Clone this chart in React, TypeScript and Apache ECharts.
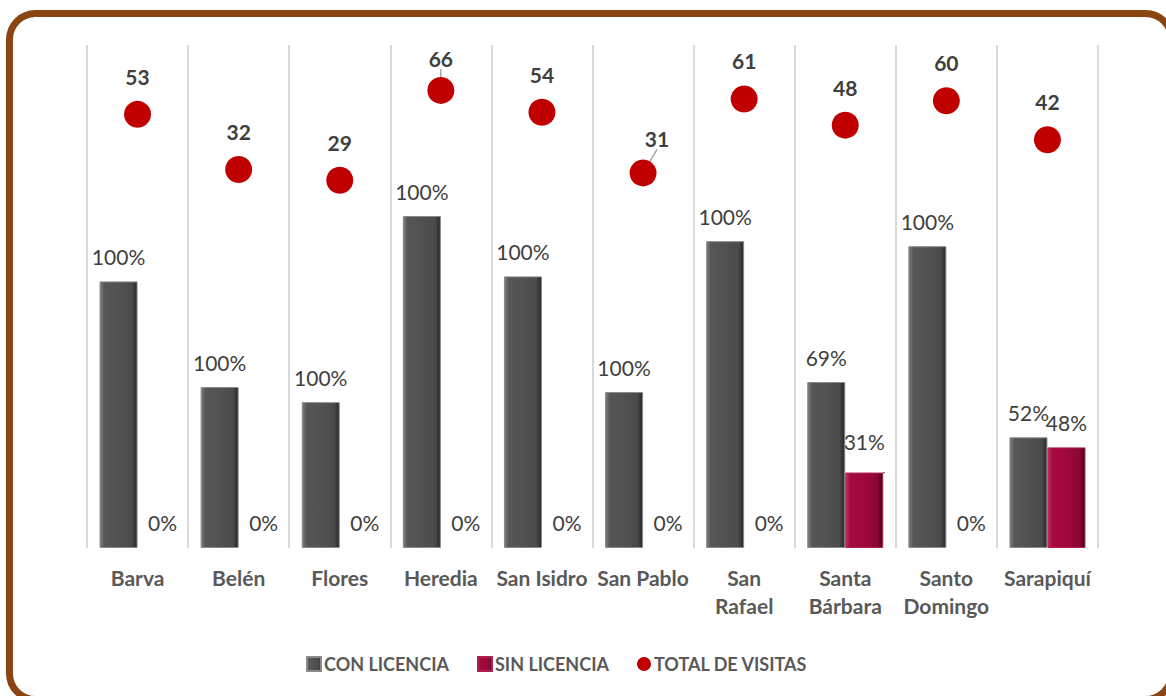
import React, { useEffect, useRef } from "react";
import * as echarts from "echarts";

const categories = ["Barva", "Belén", "Flores", "Heredia", "San Isidro", "San Pablo", "San Rafael", "Santa Bárbara", "Santo Domingo", "Sarapiquí"];
const totalVisits = [53, 32, 29, 66, 54, 31, 61, 48, 60, 42];
const conLicencia = [53, 32, 29, 66, 54, 31, 61, 33, 60, 22];
const sinLicencia = [0, 0, 0, 0, 0, 0, 0, 15, 0, 20];
const wrappedLabels = ["San Rafael", "Santa Bárbara", "Santo Domingo"];

const FONT = "Lato, 'Open Sans', sans-serif";

const pct = (v: number, i: number) => Math.round((v / totalVisits[i]) * 100) + "%";

const grad = (stops: [number, string][]) => ({
  type: "linear",
  x: 0,
  y: 0,
  x2: 1,
  y2: 0,
  colorStops: stops.map(([offset, color]) => ({ offset, color })),
});

export default function App() {
  const ref = useRef<HTMLDivElement>(null);
  useEffect(() => {
    if (!ref.current) return;
    const chart = echarts.init(ref.current, null, { renderer: "svg" });
    const conColor = grad([
      [0, "#7d7d7d"],
      [0.12, "#565656"],
      [0.5, "#525252"],
      [0.86, "#4a4a4a"],
      [1, "#262626"],
    ]);
    const sinColor = grad([
      [0, "#c8306a"],
      [0.12, "#a50a42"],
      [0.5, "#a0083e"],
      [0.86, "#8a0636"],
      [1, "#3a0014"],
    ]);
    const pctLabel = {
      show: true,
      position: "top",
      distance: 14,
      color: "#404040",
      fontFamily: FONT,
      fontSize: 21,
    };
    chart.setOption({
      animation: false,
      textStyle: { fontFamily: FONT },
      graphic: [
        {
          type: "rect",
          shape: { x: 9.5, y: 13.5, width: 1162, height: 686, r: 26 },
          style: { fill: "none", stroke: "#8B4513", lineWidth: 7 },
          silent: true,
        },
      ],
      grid: { left: 87, right: 68, top: 45, bottom: 148, containLabel: false },
      legend: {
        top: 650,
        left: 301,
        itemWidth: 14,
        itemHeight: 14,
        itemGap: 28,
        textStyle: { color: "#595959", fontFamily: FONT, fontSize: 18, fontWeight: "bold", padding: [0, 0, 0, -2] },
        data: [
          { name: "CON LICENCIA", icon: "rect" },
          { name: "SIN LICENCIA", icon: "rect" },
          { name: "TOTAL DE VISITAS", icon: "circle" },
        ],
      },
      xAxis: {
        type: "category",
        data: categories,
        axisLine: { show: false },
        axisTick: { show: false },
        splitLine: { show: true, lineStyle: { color: "#d9d9d9", width: 2 } },
        axisLabel: {
          color: "#595959",
          fontFamily: FONT,
          fontSize: 21,
          fontWeight: "bold",
          lineHeight: 28,
          margin: 15,
          interval: 0,
          formatter: (v: string) => (wrappedLabels.includes(v) ? v.replace(" ", "\n") : v),
        },
      },
      yAxis: [
        { type: "value", min: 0, max: 100, show: false, splitLine: { show: false } },
        { type: "log", min: 1, max: 100, logBase: 10, show: false, splitLine: { show: false } },
      ],
      series: [
        {
          name: "CON LICENCIA",
          type: "bar",
          barWidth: 38,
          barGap: "0%",
          itemStyle: { color: conColor, borderColor: "#8a8a8a", borderWidth: 1 },
          label: { ...pctLabel, formatter: (p: any) => pct(p.value, p.dataIndex) },
          data: conLicencia,
        },
        {
          name: "SIN LICENCIA",
          type: "bar",
          barWidth: 38,
          barGap: "0%",
          itemStyle: { color: sinColor, borderColor: "#b0204e", borderWidth: 1 },
          label: { ...pctLabel, formatter: (p: any) => pct(p.value, p.dataIndex) },
          data: sinLicencia.map((v, i) =>
            v === 0
              ? { value: v, itemStyle: { borderWidth: 0, opacity: 0 }, label: { distance: 15, offset: [6, 0], opacity: 1 } }
              : i === 7
              ? { value: v, label: { distance: 21 }, labelLine: { show: true } }
              : { value: v }
          ),
        },
        {
          name: "TOTAL DE VISITAS",
          type: "scatter",
          yAxisIndex: 1,
          symbol: "circle",
          symbolSize: 27,
          itemStyle: { color: "#c00000", opacity: 1 },
          label: {
            show: true,
            position: "top",
            distance: 14,
            color: "#404040",
            fontFamily: FONT,
            fontSize: 21,
            fontWeight: "bold",
          },
          labelLine: { show: false, lineStyle: { color: "#a6a6a6", width: 1.5 } },
          labelLayout: (p: any) => {
            if (p.dataIndex === 3) return { dy: 6 };
            if (p.dataIndex === 5) return { dx: 14, dy: 4 };
            return {};
          },
          data: totalVisits.map((v, i) =>
            i === 3 || i === 5 ? { value: v, labelLine: { show: true, lineStyle: { color: "#a6a6a6", width: 1.5 } } } : { value: v }
          ),
        },
      ],
    });
    return () => chart.dispose();
  }, []);
  return (
    <div style={{ position: "absolute", left: 0, top: 0, width: 1166, height: 696, overflow: "hidden", background: "#fff" }}>
      <div ref={ref} style={{ width: 1166, height: 696 }} />
    </div>
  );
}
